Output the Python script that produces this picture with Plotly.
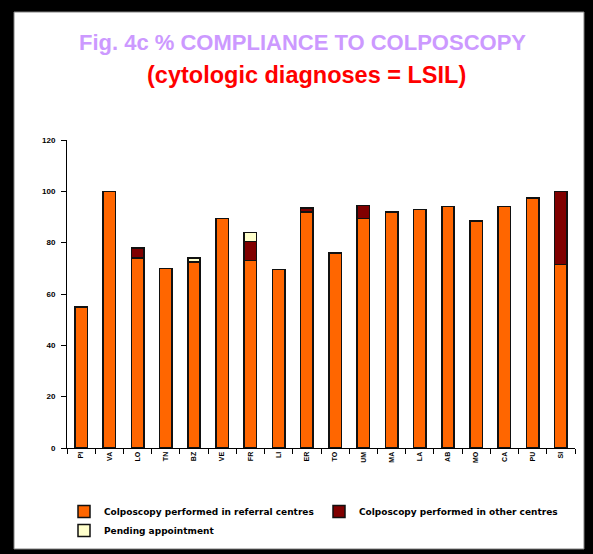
import plotly.graph_objects as go

categories = ["PI", "VA", "LO", "TN", "BZ", "VE", "FR", "LI", "ER",
              "TO", "UM", "MA", "LA", "AB", "MO", "CA", "PU", "SI"]
referral = [55, 100, 74, 70, 72.5, 89.5, 73, 69.5, 92, 76, 89.5, 92, 93, 94, 88.5, 94, 97.5, 71.5]
other = [0, 0, 4, 0, 0, 0, 7.5, 0, 1.5, 0, 5, 0, 0, 0, 0, 0, 0, 28.5]
pending = [0, 0, 0, 0, 1.5, 0, 3.5, 0, 0, 0, 0, 0, 0, 0, 0, 0, 0, 0]
series_names = ["Colposcopy performed in referral centres",
                "Colposcopy performed in other centres",
                "Pending appointment"]
y_ticks = [0, 20, 40, 60, 80, 100, 120]

W, H = 593, 554
L, R, T, B = 67, 18, 140, 106

def px(x):
    return (x - L) / (W - L - R)

def py(y):
    return (H - B - y) / (H - T - B)

fig = go.Figure()
colors = ["#FF6600", "#800000", "#FFFFCC"]
for name, vals, col in zip(series_names, [referral, other, pending], colors):
    fig.add_trace(go.Bar(
        x=categories, y=vals, name=name,
        marker=dict(color=col, line=dict(color="#111111", width=1.5)),
    ))

fig.update_layout(
    width=W, height=H,
    barmode="stack", bargap=0.56,
    margin=dict(l=L, r=R, t=T, b=B, autoexpand=False),
    paper_bgcolor="black", plot_bgcolor="white",
    font=dict(family="Liberation Sans, Arial", color="black"),
    showlegend=True,
    legend=dict(orientation="h", x=px(64), y=py(497), xanchor="left", yanchor="top",
                font=dict(size=9, family="DejaVu Sans", color="black", weight="bold"),
                entrywidth=210, entrywidthmode="pixels",
                tracegroupgap=0, bgcolor="rgba(0,0,0,0)",
                traceorder="normal"),
    xaxis=dict(showline=True, linecolor="black", linewidth=1, ticks="outside",
               tickson="boundaries", ticklen=5, tickcolor="black",
               tickangle=-90, tickfont=dict(size=7, color="black", weight="bold"),
               showgrid=False, zeroline=False),
    yaxis=dict(range=[0, 120], tickvals=y_ticks, showline=True, linecolor="black",
               linewidth=1, ticks="outside", ticklen=5, tickcolor="black",
               ticklabelstandoff=4,
               tickfont=dict(size=8, color="black", weight="bold"),
               showgrid=False, zeroline=False),
    shapes=[dict(type="rect", xref="paper", yref="paper", layer="below",
                 x0=px(14), x1=px(584), y0=py(549), y1=py(12),
                 fillcolor="white", line=dict(color="#808080", width=1))],
    annotations=[
        dict(text="<b>Fig. 4c % COMPLIANCE TO COLPOSCOPY</b>", xref="paper", yref="paper",
             x=px(302), y=py(42), xanchor="center", yanchor="middle", showarrow=False,
             font=dict(size=22, color="#CC99FF", family="Liberation Sans, Arial")),
        dict(text="<b>(cytologic diagnoses = LSIL)</b>", xref="paper", yref="paper",
             x=px(306), y=py(75), xanchor="center", yanchor="middle", showarrow=False,
             font=dict(size=23.5, color="#FF0000", family="Liberation Sans, Arial")),
    ],
)
fig.write_html("out.html", config={"displayModeBar": False},
               post_script="document.body.style.margin='0';")
